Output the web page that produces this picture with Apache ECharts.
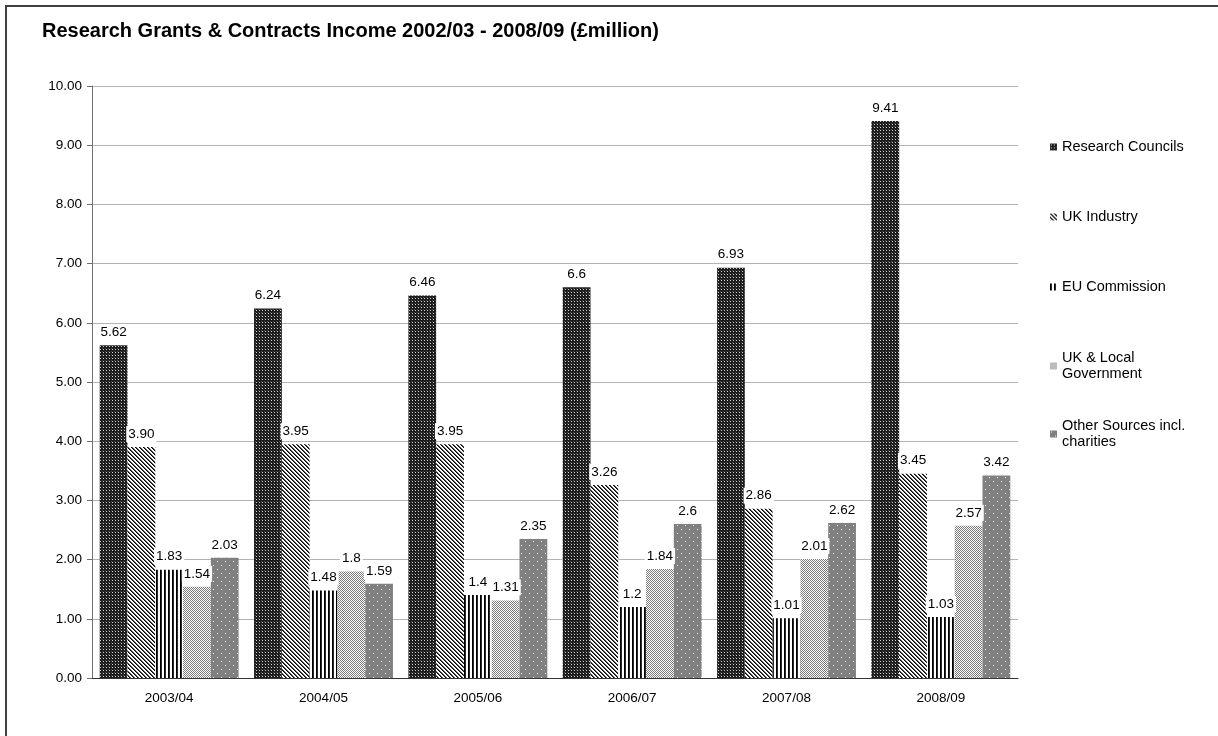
<!DOCTYPE html>
<html>
<head>
<meta charset="utf-8">
<script src="https://cdn.jsdelivr.net/npm/echarts@6/dist/echarts.min.js"></script>
<style>
html,body{margin:0;padding:0;background:#fff;}
#chart{width:1218px;height:736px;}
</style>
</head>
<body>
<div id="chart"></div>
<script>
var categories = ['2003/04', '2004/05', '2005/06', '2006/07', '2007/08', '2008/09'];
var researchCouncils = [5.62, 6.24, 6.46, 6.6, 6.93, 9.41];
var ukIndustry = [3.90, 3.95, 3.95, 3.26, 2.86, 3.45];
var euCommission = [1.83, 1.48, 1.4, 1.2, 1.01, 1.03];
var ukLocalGov = [1.54, 1.8, 1.31, 1.84, 2.01, 2.57];
var otherSources = [2.03, 1.59, 2.35, 2.6, 2.62, 3.42];
var seriesNames = ['Research Councils', 'UK Industry', 'EU Commission', 'UK & Local Government', 'Other Sources incl. charities'];
var legendTexts = ['Research Councils', 'UK Industry', 'EU Commission', 'UK & Local\nGovernment', 'Other Sources incl.\ncharities'];
var yTicks = [0, 1, 2, 3, 4, 5, 6, 7, 8, 9, 10];

function makeTile(w, h, bg, pixels) {
  var c = document.createElement('canvas');
  c.width = w; c.height = h;
  var ctx = c.getContext('2d');
  ctx.fillStyle = bg; ctx.fillRect(0, 0, w, h);
  pixels.forEach(function (p) { ctx.fillStyle = p[2]; ctx.fillRect(p[0], p[1], 1, 1); });
  return { image: c, repeat: 'repeat' };
}
// Research Councils: dark dotted grid
var patRC = makeTile(3, 3, '#1c1c1c', [[1, 1, '#d0d0d0'], [0, 0, '#4a4a4a']]);
// UK Industry: diagonal stripes
var diag = [];
for (var i = 0; i < 4; i++) { diag.push([i, i, '#000']); diag.push([(i + 1) % 4, i, '#555']); }
var patUKI = makeTile(4, 4, '#ffffff', diag);
// EU: vertical stripes
var patEU = makeTile(4, 1, '#ffffff', [[0, 0, '#000'], [1, 0, '#2a2a2a']]);
// UK & Local: checker lattice
var chk = [];
for (var y = 0; y < 4; y++) for (var x = 0; x < 4; x++) { if ((x + y) % 2 === 0) chk.push([x, y, '#7a7a7a']); }
var patUKL = makeTile(4, 4, '#ffffff', chk);
// Other: gray with sparse white dots
var patOther = makeTile(8, 8, '#808080', [[1, 1, '#f0f0f0'], [5, 5, '#f0f0f0']]);

var patterns = [patRC, patUKI, patEU, patUKL, patOther];
var dataSets = [researchCouncils, ukIndustry, euCommission, ukLocalGov, otherSources];
var fixed2 = [false, true, false, false, false];

var FONT = "'Liberation Sans', Arial, sans-serif";
var legendTops = [139, 209, 279, 350, 418];

var chart = echarts.init(document.getElementById('chart'));
var option = {
  animation: false,
  backgroundColor: '#fff',
  textStyle: { fontFamily: FONT },
  title: {
    text: 'Research Grants & Contracts Income 2002/03 - 2008/09 (£million)',
    left: 42, top: 21, padding: 0,
    textStyle: { fontFamily: FONT, fontSize: 20, fontWeight: 'bold', color: '#000' }
  },
  graphic: [{
    type: 'rect', shape: { x: 6, y: 6, width: 1240, height: 760 },
    style: { fill: 'none', stroke: '#404040', lineWidth: 2 }, silent: true, z: 100
  }],
  legend: seriesNames.map(function (n, k) {
    return {
      orient: 'vertical', left: 1050, top: legendTops[k], data: [n], padding: 0,
      icon: 'rect', itemWidth: 7, itemHeight: 7, itemGap: 0,
      formatter: function () { return legendTexts[k]; },
      textStyle: { fontFamily: FONT, fontSize: 14.5, color: '#000', lineHeight: 16 }
    };
  }),
  grid: { left: 92, right: 200, top: 86, bottom: 58 },
  xAxis: {
    type: 'category', data: categories,
    axisLine: { lineStyle: { color: '#333', width: 1 } },
    axisTick: { length: 5, lineStyle: { color: '#333' } },
    axisLabel: { fontFamily: FONT, fontSize: 13.5, color: '#000', margin: 13 }
  },
  yAxis: {
    type: 'value', min: yTicks[0], max: yTicks[yTicks.length - 1], interval: 1,
    axisLine: { show: true, lineStyle: { color: '#707070' } },
    axisTick: { show: true, length: 5, lineStyle: { color: '#707070' } },
    axisLabel: { fontFamily: FONT, fontSize: 13.5, color: '#000', margin: 10, formatter: function (v) { return v.toFixed(2); } },
    splitLine: { lineStyle: { color: '#b4b4b4', width: 1 } }
  },
  series: seriesNames.map(function (n, k) {
    return {
      name: n, type: 'bar', data: dataSets[k],
      barGap: '0%', barCategoryGap: '10%',
      itemStyle: { color: patterns[k] },
      label: {
        show: true, position: 'top', distance: 5,
        backgroundColor: '#fff', padding: [1, 2],
        fontFamily: FONT, fontSize: 13.5, color: '#000',
        formatter: function (p) { return fixed2[k] ? p.value.toFixed(2) : String(p.value); }
      }
    };
  })
};
chart.setOption(option);
</script>
</body>
</html>
